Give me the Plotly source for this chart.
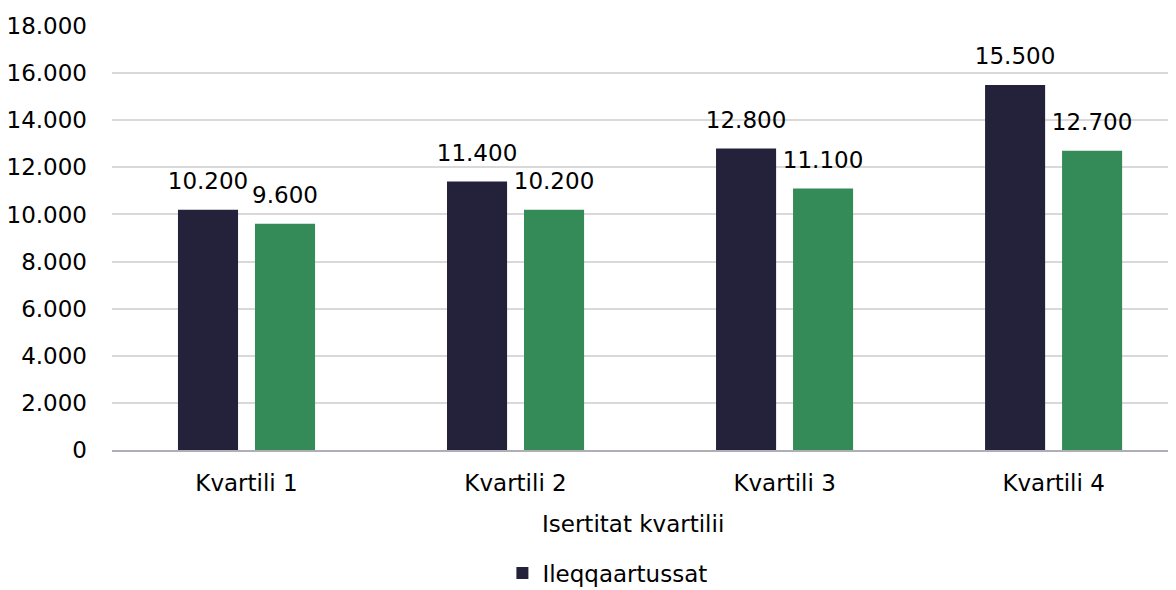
import plotly.graph_objects as go

categories = ["Kvartili 1", "Kvartili 2", "Kvartili 3", "Kvartili 4"]
series1_name = "Ileqqaartussat"
series1_values = [10200, 11400, 12800, 15500]
series2_values = [9600, 10200, 11100, 12700]
y_ticks = [0, 2000, 4000, 6000, 8000, 10000, 12000, 14000, 16000, 18000]
y_tick_labels = ["0", "2.000", "4.000", "6.000", "8.000", "10.000", "12.000", "14.000", "16.000", "18.000"]
x_title = "Isertitat kvartilii"

def fmt(v):
    return f"{v:,}".replace(",", ".")

FONT = "DejaVu Sans"
FS = 23
GAP = 0.4275

fig = go.Figure()
fig.add_trace(go.Bar(
    x=categories, y=series1_values, name=series1_name,
    marker=dict(color="#23223a", line=dict(width=0)),
))
fig.add_trace(go.Bar(
    x=categories, y=series2_values, name="",
    marker=dict(color="#358b58", line=dict(width=0)),
    showlegend=False,
))
# value labels, grouped like the bars
for vals in (series1_values, series2_values):
    fig.add_trace(go.Scatter(
        x=categories, y=vals, mode="markers+text",
        marker=dict(size=22, color="rgba(0,0,0,0)"),
        text=[fmt(v) for v in vals], textposition="top center",
        textfont=dict(size=FS, color="#000000", family=FONT),
        cliponaxis=False, showlegend=False, hoverinfo="skip",
    ))

# page body has an 8px margin, so the figure is sized/offset to compensate
fig.update_layout(
    width=1168, height=582,
    margin=dict(l=104, r=0, t=18, b=140, autoexpand=False),
    plot_bgcolor="white", paper_bgcolor="white",
    barmode="group", bargap=GAP, bargroupgap=0.22,
    scattermode="group", scattergap=GAP,
    font=dict(family=FONT, size=FS, color="#000000"),
    showlegend=True,
    legend=dict(orientation="h", x=0.4656, xanchor="center", y=-0.29, yanchor="middle",
                font=dict(size=FS, family=FONT), itemwidth=30),
    xaxis=dict(
        range=[-0.5, 3.455], automargin=False,
        showline=True, linecolor="#aeaeb6", linewidth=1.5,
        ticks="", ticklabelstandoff=12, tickfont=dict(size=FS, family=FONT),
    ),
    yaxis=dict(
        range=[0, 18000], tickvals=y_ticks, ticktext=y_tick_labels, automargin=False,
        showgrid=True, gridcolor="#d9d9d9", gridwidth=1.5,
        zeroline=False, showline=False, ticks="", ticklabelstandoff=24,
        tickfont=dict(size=FS, family=FONT),
    ),
    annotations=[dict(
        text=x_title, xref="paper", yref="paper", x=0.4897, y=(450 - 524) / 424,
        xanchor="center", yanchor="middle", showarrow=False,
        font=dict(size=FS, family=FONT, color="#000000"),
    )],
)

fig.write_html("out.html")
